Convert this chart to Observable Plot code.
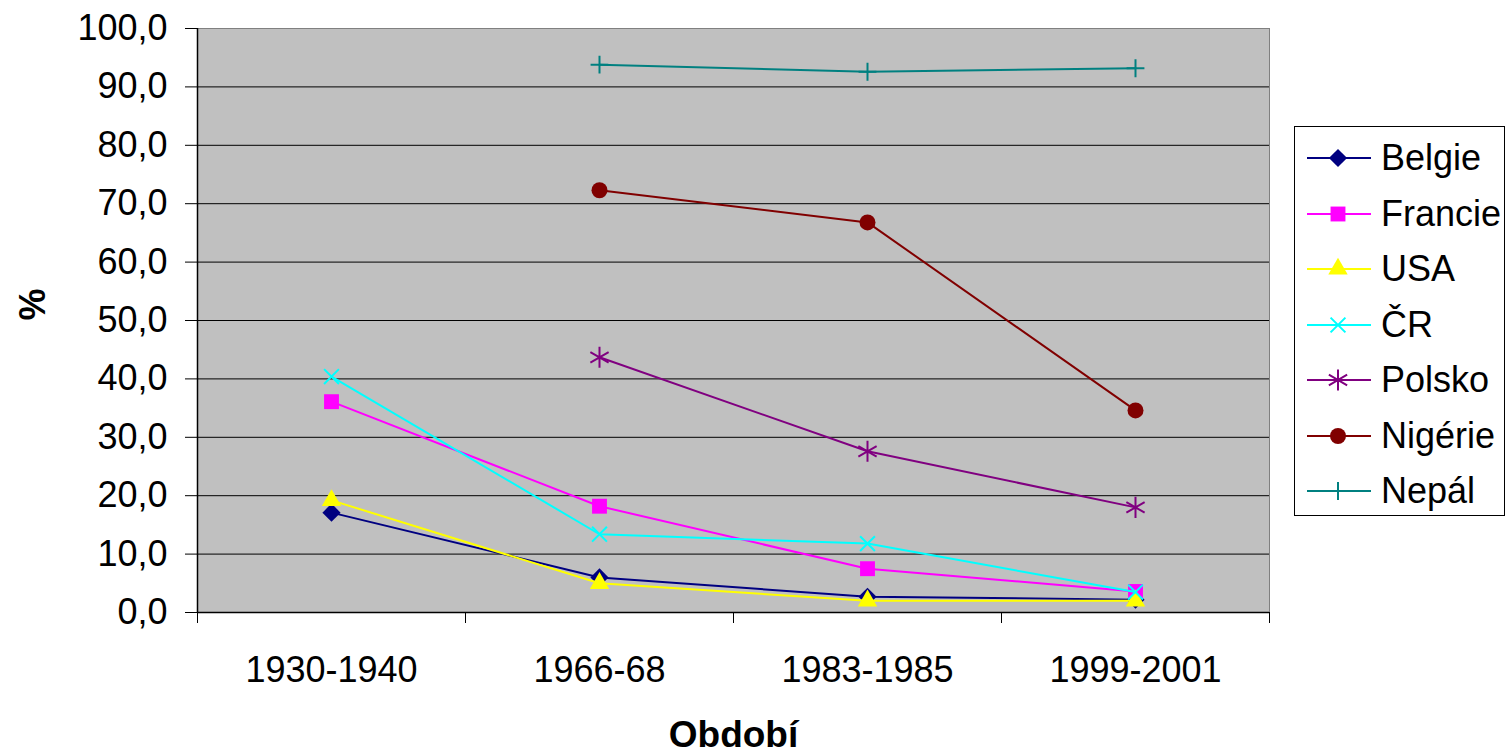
<!DOCTYPE html>
<html>
<head>
<meta charset="utf-8">
<script src="https://cdn.jsdelivr.net/npm/d3@7"></script>
<script src="https://cdn.jsdelivr.net/npm/@observablehq/plot@0.6"></script>
<style>
  html, body { margin: 0; padding: 0; background: #fff; }
  #wrap { position: relative; width: 1507px; height: 752px; font-family: "Liberation Sans", Arial, sans-serif; }
  #legend { position: absolute; left: 1294px; top: 126px; width: 211px; height: 390px; border: 1px solid #000; background: #fff; box-sizing: border-box; }
  .item { position: absolute; left: 0; height: 40px; display: flex; align-items: center; }
  .item span { font-size: 36px; color: #000; }
</style>
</head>
<body>
<div id="wrap"><div id="legend"></div></div>
<script>
const periods = ["1930-1940", "1966-68", "1983-1985", "1999-2001"];
const seriesNames = ["Belgie", "Francie", "USA", "ČR", "Polsko", "Nigérie", "Nepál"];
const belgie  = [17.1, 6.0, 2.7, 2.2];
const francie = [36.1, 18.2, 7.5, 3.6];
const usa     = [19.2, 5.0, 2.0, 2.0];
const cr      = [40.4, 13.4, 11.8, 3.5];
const polsko  = [null, 43.7, 27.6, 18.0];
const nigerie = [null, 72.3, 66.8, 34.6];
const nepal   = [null, 93.8, 92.6, 93.2];
const yTicks = [0, 10, 20, 30, 40, 50, 60, 70, 80, 90, 100];

const seriesValues = [belgie, francie, usa, cr, polsko, nigerie, nepal];
const colors = ["#000080", "#FF00FF", "#FFFF00", "#00FFFF", "#800080", "#800000", "#008080"];
const symbols = ["diamond2", "square", "triangle", "times", "asterisk", "circle", "plus"];
const filled = [true, true, true, false, false, true, false];
const radii = [8.2, 8.4, 7.2, 6.8, 10, 8, 5.8];
const d3symbols = {diamond2: d3.symbolDiamond2, square: d3.symbolSquare, triangle: d3.symbolTriangle, times: d3.symbolTimes, asterisk: d3.symbolAsterisk, circle: d3.symbolCircle, plus: d3.symbolPlus};

const series = seriesNames.map((name, k) => ({
  name, color: colors[k], symbol: symbols[k], filled: filled[k], r: radii[k],
  rows: seriesValues[k].map((v, i) => ({series: name, idx: i, period: periods[i], value: v})).filter(d => d.value != null)
}));

const fmt = d => d.toFixed(1).replace(".", ",");
const boundaries = d3.range(periods.length + 1).map(i => i - 0.5);

const marks = [
  Plot.frame({fill: "#C0C0C0", stroke: "#808080"}),
  Plot.gridY(yTicks.filter(t => t > 0 && t < 100), {stroke: "#000", strokeOpacity: 1, strokeWidth: 1}),
  Plot.axisY({ticks: yTicks, tickFormat: fmt, tickSize: 12, tickPadding: 18, fontSize: 36, label: null, stroke: "#000"}),
  Plot.axisX({ticks: d3.range(periods.length), tickFormat: i => periods[i], tickSize: 0, tickPadding: 44, fontSize: 36, label: null}),
  Plot.axisX({ticks: boundaries, tickFormat: () => "", tickSize: 11, label: null}),
  Plot.ruleX([-0.5], {stroke: "#000", strokeWidth: 1.5}),
  Plot.ruleY([0], {stroke: "#000", strokeWidth: 1.5}),
  Plot.text(["Období"], {frameAnchor: "bottom", dy: 134, fontSize: 37, fontWeight: "bold", fill: "#000"}),
  Plot.text(["%"], {frameAnchor: "left", dx: -164, rotate: -90, fontSize: 36, fontWeight: "bold", fill: "#000"})
];
for (const s of series) {
  marks.push(Plot.lineY(s.rows, {x: "idx", y: "value", stroke: s.color, strokeWidth: 2}));
  marks.push(Plot.dot(s.rows, {x: "idx", y: "value", symbol: s.symbol, r: s.r,
    fill: s.filled ? s.color : "none", stroke: s.color, strokeWidth: s.filled ? 0 : 2}));
}

const chart = Plot.plot({
  width: 1507, height: 752,
  marginLeft: 197, marginRight: 238, marginTop: 28, marginBottom: 140,
  style: {fontFamily: "'Liberation Sans', Arial, sans-serif", color: "#000", background: "#fff", overflow: "visible"},
  x: {type: "linear", domain: [-0.5, periods.length - 0.5]},
  y: {domain: [0, 100]},
  marks
});
document.getElementById("wrap").prepend(chart);

// legend: marker shapes built from the same symbol types and sizes as the Plot dots
const legend = document.getElementById("legend");
series.forEach((s, k) => {
  const item = document.createElement("div");
  item.className = "item";
  item.style.top = (11 + k * 55.5) + "px";
  const svg = d3.create("svg").attr("width", 86).attr("height", 40);
  svg.append("line").attr("x1", 12).attr("x2", 76).attr("y1", 20).attr("y2", 20).attr("stroke", s.color).attr("stroke-width", 2);
  svg.append("path").attr("transform", "translate(43,20)")
    .attr("d", d3.symbol(d3symbols[s.symbol], s.r * s.r * Math.PI)())
    .attr("fill", s.filled ? s.color : "none").attr("stroke", s.filled ? "none" : s.color).attr("stroke-width", 2);
  item.appendChild(svg.node());
  const span = document.createElement("span");
  span.textContent = s.name;
  item.appendChild(span);
  legend.appendChild(item);
});
</script>
</body>
</html>
